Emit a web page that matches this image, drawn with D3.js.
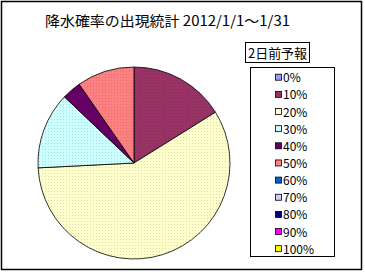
<!DOCTYPE html>
<html>
<head>
<meta charset="utf-8">
<script src="https://cdn.jsdelivr.net/npm/d3@7"></script>
<style>
  body { margin: 0; background: #fff; }
  svg text { font-family: "Noto Sans CJK JP", "DejaVu Sans", sans-serif; fill: #000; }
</style>
</head>
<body>
<svg id="vis"></svg>
<script>
// days in Jan 2012 for each forecast probability (2 days ahead)
const categories = ["0%", "10%", "20%", "30%", "40%", "50%", "60%", "70%", "80%", "90%", "100%"];
const days = [0, 5, 18, 4, 1, 3, 0, 0, 0, 0, 0];
const colors = ["#9999ff", "#993366", "#ffffcc", "#ccffff", "#660066", "#ff8080",
  "#0066cc", "#ccccff", "#000080", "#ff00ff", "#ffff00"];

const titleText = "降水確率の出現統計 2012/1/1～1/31";
const legendTitle = "2日前予報";

let config = { svg: {}, pie: {}, legend: {} };

config.svg.width = 365;
config.svg.height = 272;

config.pie.x = 134;
config.pie.y = 163;
config.pie.r = 96;

config.legend.x = 250;
config.legend.y = 67;
config.legend.width = 84;
config.legend.height = 189;
config.legend.row = 17.15;

const svg = d3.select("svg#vis")
  .attr("width", config.svg.width)
  .attr("height", config.svg.height);

// outer frame
svg.append("rect")
  .attr("x", 1.5).attr("y", 1.5)
  .attr("width", 360).attr("height", 268)
  .attr("fill", "#fff")
  .attr("stroke", "#000")
  .attr("stroke-width", 1.5);

svg.append("text")
  .text(titleText)
  .attr("x", 45)
  .attr("y", 26)
  .attr("font-size", "14px")
  .attr("textLength", 245)
  .attr("lengthAdjust", "spacingAndGlyphs");

// dotted fill like the original bitmap
let defs = svg.append("defs");
colors.forEach(function(c, i) {
  let p = defs.append("pattern")
    .attr("id", "pat" + i)
    .attr("patternUnits", "userSpaceOnUse")
    .attr("width", 3).attr("height", 3);
  p.append("rect").attr("width", 3).attr("height", 3).attr("fill", c);
  p.append("rect").attr("x", 1).attr("y", 1).attr("width", 1).attr("height", 1)
    .attr("fill", d3.color(c).darker(0.4));
});

let pie = d3.pie().sort(null).value(d => d.value);
let arc = d3.arc().innerRadius(0).outerRadius(config.pie.r);

let data = categories.map((c, i) => ({ name: c, value: days[i], index: i }));

let plot = svg.append("g")
  .attr("transform", translate(config.pie.x, config.pie.y));

plot.selectAll("path")
  .data(pie(data).filter(d => d.data.value > 0))
  .enter()
  .append("path")
  .attr("d", arc)
  .attr("fill", d => "url(#pat" + d.data.index + ")")
  .attr("stroke", "#000")
  .attr("stroke-width", 0.8);

drawLegend();

function drawLegend() {
  let head = svg.append("g").attr("transform", translate(245, 42));
  head.append("rect")
    .attr("x", 0.5).attr("y", 0.5)
    .attr("width", 64).attr("height", 20)
    .attr("fill", "#fff").attr("stroke", "#000");
  head.append("text")
    .text(legendTitle)
    .attr("x", 3).attr("y", 15.5)
    .attr("font-size", "13px")
    .attr("textLength", 59)
    .attr("lengthAdjust", "spacingAndGlyphs");

  let legend = svg.append("g")
    .attr("transform", translate(config.legend.x, config.legend.y));

  legend.append("rect")
    .attr("x", 0.5).attr("y", 0.5)
    .attr("width", config.legend.width).attr("height", config.legend.height)
    .attr("fill", "#fff").attr("stroke", "#000");

  let rows = legend.selectAll("g.item")
    .data(data)
    .enter()
    .append("g")
    .attr("class", "item")
    .attr("transform", (d, i) => translate(0, 10.7 + i * config.legend.row));

  rows.append("rect")
    .attr("x", 25.5).attr("y", -3.5)
    .attr("width", 6).attr("height", 6)
    .attr("fill", d => colors[d.index])
    .attr("stroke", "#000")
    .attr("stroke-width", 0.8);

  rows.append("text")
    .text(d => d.name)
    .attr("x", 33)
    .attr("y", 4.5)
    .attr("font-size", "12px");
}

function translate(x, y) {
  return "translate(" + x + "," + y + ")";
}
</script>
</body>
</html>
